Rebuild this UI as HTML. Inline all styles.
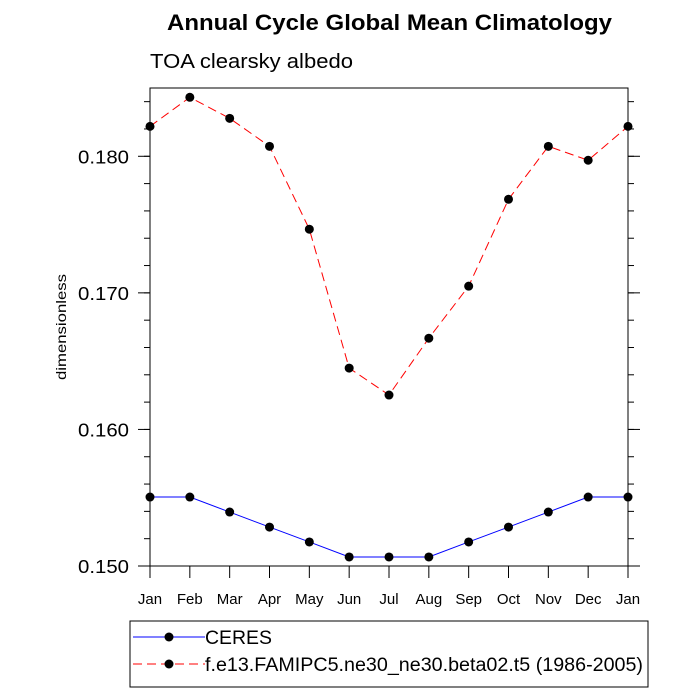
<!DOCTYPE html>
<html><head><meta charset="utf-8"><style>body{margin:0;background:#fff}svg{display:block;font-family:"Liberation Sans",sans-serif}</style></head>
<body>
<svg id="c" width="700" height="700" xmlns="http://www.w3.org/2000/svg">
<text x="167" y="30" textLength="445" lengthAdjust="spacingAndGlyphs" font-size="22" font-weight="bold">Annual Cycle Global Mean Climatology</text>
<text x="150" y="68" textLength="203" lengthAdjust="spacingAndGlyphs" font-size="20">TOA clearsky albedo</text>
<text transform="translate(66,327) rotate(-90)" text-anchor="middle" font-size="14" textLength="106" lengthAdjust="spacingAndGlyphs">dimensionless</text>
<g id="axes"></g>
<g id="series"></g>
<g>
<rect x="130" y="621" width="518" height="66" fill="none" stroke="#000" stroke-width="1"/>
<g>
<line x1="133" y1="637" x2="205" y2="637" stroke="#00f" stroke-width="1"/>
<circle cx="169" cy="637" r="4.5" fill="#000"/>
<text x="205" y="644" font-size="19" textLength="67" lengthAdjust="spacingAndGlyphs">CERES</text></g>
<g>
<line x1="133" y1="664" x2="205" y2="664" stroke="#f00" stroke-width="1" stroke-dasharray="9,5"/>
<circle cx="169" cy="664" r="4.5" fill="#000"/>
<text x="205" y="671" font-size="19" textLength="438" lengthAdjust="spacingAndGlyphs">f.e13.FAMIPC5.ne30_ne30.beta02.t5 (1986-2005)</text></g>
</g>
</svg>
<script>
const months=["Jan","Feb","Mar","Apr","May","Jun","Jul","Aug","Sep","Oct","Nov","Dec","Jan"];
const ceres=[0.15505,0.15505,0.15395,0.15285,0.15176,0.15066,0.15066,0.15066,0.15176,0.15285,0.15395,0.15505,0.15505];
const model=[0.18219,0.18432,0.18278,0.18073,0.17466,0.16449,0.16252,0.16668,0.17049,0.17685,0.18073,0.17971,0.18219];
const yTicks=[0.150,0.160,0.170,0.180];
const yTickLabels=["0.150","0.160","0.170","0.180"];
const yMin=0.150,yMax=0.185;
const L=150,R=628,T=88,B=566;
const NS="http://www.w3.org/2000/svg";
const xs=i=>L+(R-L)*i/(months.length-1);
const ys=v=>B-(v-yMin)/(yMax-yMin)*(B-T);
function mk(p,t,a){const e=document.createElementNS(NS,t);for(const k in a)e.setAttribute(k,a[k]);p.appendChild(e);return e;}
const ax=document.getElementById('axes'),sg=document.getElementById('series');
const fr=mk(ax,'rect',{x:L,y:T,width:R-L,height:B-T,fill:'none',stroke:'#000','stroke-width':1});


for(let v=yMin;v<=yMax+1e-9;v+=0.002){const y=ys(v);mk(ax,'line',{x1:L-6,x2:L,y1:y,y2:y,stroke:'#000'});mk(ax,'line',{x1:R,x2:R+6,y1:y,y2:y,stroke:'#000'});}
yTicks.forEach((v,i)=>{const y=ys(v);mk(ax,'line',{x1:L-12,x2:L,y1:y,y2:y,stroke:'#000'});mk(ax,'line',{x1:R,x2:R+12,y1:y,y2:y,stroke:'#000'});
const t=mk(ax,'text',{x:L-21,y:y+7,'text-anchor':'end','font-size':18,textLength:51,lengthAdjust:'spacingAndGlyphs'});t.textContent=yTickLabels[i];

});
months.forEach((m,i)=>{const x=xs(i);mk(ax,'line',{x1:x,x2:x,y1:B,y2:B+12,stroke:'#000'});
const t=mk(ax,'text',{x:x,y:B+38,'text-anchor':'middle','font-size':15});t.textContent=m;

});
function series(d,col,dash,name){const pts=d.map((v,i)=>xs(i)+','+ys(v)).join(' ');
const g=mk(sg,'g',{});


const a={points:pts,fill:'none',stroke:col,'stroke-width':1};if(dash)a['stroke-dasharray']=dash;mk(g,'polyline',a);
d.forEach((v,i)=>{const c=mk(g,'circle',{cx:xs(i),cy:ys(v),r:4.5,fill:'#000'});

});}
series(ceres,'#00f',null,'series-ceres');
series(model,'#f00','9,5','series-model');
</script>
</body></html>
